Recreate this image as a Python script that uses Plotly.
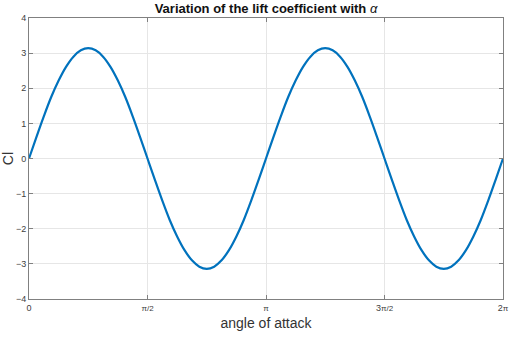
import numpy as np
import plotly.graph_objects as go

cl_values = [0.00, 0.61, 1.20, 1.75, 2.22, 2.61, 2.90, 3.08, 3.14,
             3.08, 2.90, 2.61, 2.22, 1.75, 1.20, 0.61, 0.00,
             -0.61, -1.20, -1.75, -2.22, -2.61, -2.90, -3.08, -3.14,
             -3.08, -2.90, -2.61, -2.22, -1.75, -1.20, -0.61, 0.00,
             0.61, 1.20, 1.75, 2.22, 2.61, 2.90, 3.08, 3.14,
             3.08, 2.90, 2.61, 2.22, 1.75, 1.20, 0.61, 0.00,
             -0.61, -1.20, -1.75, -2.22, -2.61, -2.90, -3.08, -3.14,
             -3.08, -2.90, -2.61, -2.22, -1.75, -1.20, -0.61, 0.00]
alpha = np.linspace(0, 2 * np.pi, len(cl_values))

x_tickvals = [0, np.pi / 2, np.pi, 3 * np.pi / 2, 2 * np.pi]
x_ticktext = ["0", "<span style='font-size:8px'>π/2</span>", "<span style='font-size:8px'>π</span>",
              "3<span style='font-size:8px'>π/2</span>", "2<span style='font-size:8px'>π</span>"]
y_tickvals = [-4, -3, -2, -1, 0, 1, 2, 3, 4]

fig = go.Figure()
fig.add_trace(go.Scatter(x=alpha, y=cl_values, mode="lines",
                         line=dict(color="#0072BD", width=2.2, shape="spline", smoothing=1.0),
                         showlegend=False))

axis_common = dict(showline=True, mirror="ticks", linecolor="#808080", linewidth=1,
                   ticks="inside", ticklen=4, tickcolor="#808080", automargin=False,
                   showgrid=True, gridcolor="#e6e6e6", gridwidth=1, zeroline=False,
                   tickfont=dict(family="Liberation Sans, Arial", size=9, color="#404040"))

fig.update_layout(
    width=509, height=338,
    margin=dict(l=29, r=6, t=18, b=39, autoexpand=False),
    paper_bgcolor="white", plot_bgcolor="white",
    title=dict(text="<b>Variation of the lift coefficient with </b><i>α</i>",
               x=0.5, xanchor="center", xref="paper", y=0.975, yanchor="middle",
               font=dict(family="Liberation Sans, Arial", size=13, color="#111111")),
    xaxis=dict(range=[0, 2 * np.pi], tickvals=x_tickvals, ticktext=x_ticktext,
               title=dict(text="angle of attack", standoff=6,
                          font=dict(family="Liberation Sans, Arial", size=14, color="#333333")),
               **axis_common),
    yaxis=dict(range=[-4, 4], tickvals=y_tickvals,
               title=dict(text="Cl", standoff=2,
                          font=dict(family="Liberation Sans, Arial", size=14, color="#333333")),
               **axis_common),
)

fig.write_html("out.html")
